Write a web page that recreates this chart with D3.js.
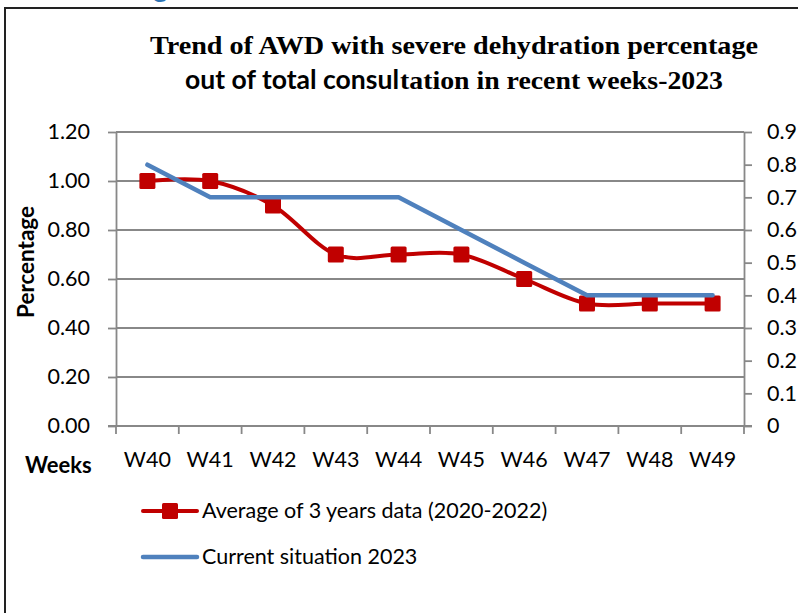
<!DOCTYPE html>
<html>
<head>
<meta charset="utf-8">
<script src="https://cdn.jsdelivr.net/npm/d3@7"></script>
<style>
  body { margin: 0; background: #fff; }
  svg { display: block; }
</style>
</head>
<body>
<svg id="chart" width="798" height="613"></svg>
<script>
const weeks = ["W40", "W41", "W42", "W43", "W44", "W45", "W46", "W47", "W48", "W49"];
const avgPrev = [1.0, 1.0, 0.9, 0.7, 0.7, 0.7, 0.6, 0.5, 0.5, 0.5];
const current2023 = [0.8, 0.7, 0.7, 0.7, 0.7, 0.6, 0.5, 0.4, 0.4, 0.4];
const leftTicks = [0, 0.2, 0.4, 0.6, 0.8, 1.0, 1.2];
const rightTicks = [0, 0.1, 0.2, 0.3, 0.4, 0.5, 0.6, 0.7, 0.8, 0.9];

const svg = d3.select("#chart");
const sans = "Lato, 'Open Sans', sans-serif";
const serif = "'Liberation Serif', 'DejaVu Serif', serif";
const gray = "#888888";
const red = "#C00000";
const blue = "#4F81BD";

const plot = { left: 116, right: 744, top: 132, bottom: 426 };

// frame of the pasted chart
svg.append("rect")
  .attr("x", 5).attr("y", 8)
  .attr("width", 820).attr("height", 700)
  .attr("fill", "none")
  .attr("stroke", "#222")
  .attr("stroke-width", 2);

// cut off heading glyph above the frame
svg.append("text")
  .attr("x", 153).attr("y", -3)
  .attr("font-family", sans).attr("font-weight", 700)
  .attr("font-size", 28).attr("fill", "#2E74B5")
  .text("g");

// title
svg.append("text")
  .attr("x", 150).attr("y", 54)
  .attr("font-family", serif).attr("font-weight", 700)
  .attr("font-size", 26)
  .attr("textLength", 608).attr("lengthAdjust", "spacingAndGlyphs")
  .text("Trend of AWD with severe dehydration percentage");
svg.append("text")
  .attr("x", 185).attr("y", 89)
  .attr("font-family", sans).attr("font-weight", 700)
  .attr("font-size", 26)
  .attr("textLength", 214).attr("lengthAdjust", "spacingAndGlyphs")
  .text("out of total consul");
svg.append("text")
  .attr("x", 400).attr("y", 89)
  .attr("font-family", serif).attr("font-weight", 700)
  .attr("font-size", 26)
  .attr("textLength", 323).attr("lengthAdjust", "spacingAndGlyphs")
  .text("tation in recent weeks-2023");

const x = d3.scaleBand().domain(weeks).range([plot.left, plot.right]);
const yL = d3.scaleLinear().domain([0, 1.2]).range([plot.bottom, plot.top]);
const yR = d3.scaleLinear().domain([0, 0.9]).range([plot.bottom, plot.top]);
const cx = (d) => x(d) + x.bandwidth() / 2;

// gridlines
svg.append("g")
  .selectAll("line")
  .data(leftTicks)
  .join("line")
  .attr("x1", plot.left).attr("x2", plot.right)
  .attr("y1", (d) => yL(d)).attr("y2", (d) => yL(d))
  .attr("stroke", gray).attr("stroke-width", 1.8);

function styleAxis(g) {
  g.selectAll(".domain").attr("stroke", gray).attr("stroke-width", 1.8);
  g.selectAll(".tick line").attr("stroke", gray).attr("stroke-width", 1.8);
  g.selectAll(".tick text")
    .attr("font-family", sans).attr("font-size", 21.5).attr("fill", "#000");
}

svg.append("g")
  .attr("transform", `translate(${plot.left},0)`)
  .call(d3.axisLeft(yL).tickValues(leftTicks).tickSize(8).tickSizeOuter(0)
    .tickPadding(18).tickFormat(d3.format(".2f")))
  .call(styleAxis);

svg.append("g")
  .attr("transform", `translate(${plot.right},0)`)
  .call(d3.axisRight(yR).tickValues(rightTicks).tickSize(8).tickSizeOuter(0)
    .tickPadding(15).tickFormat((d) => (d === 0 ? "0" : d.toFixed(1))))
  .call(styleAxis);

const xAxis = svg.append("g")
  .attr("transform", `translate(0,${plot.bottom})`)
  .call(d3.axisBottom(x).tickSize(0).tickSizeOuter(0).tickPadding(26))
  .call(styleAxis);
xAxis.selectAll(".domain").remove();
xAxis.append("line")
  .attr("x1", plot.left - 8).attr("x2", plot.right + 8)
  .attr("stroke", gray).attr("stroke-width", 1.8);
xAxis.selectAll("line.bound")
  .data(d3.range(weeks.length + 1))
  .join("line")
  .attr("class", "bound")
  .attr("x1", (i) => plot.left + i * x.step())
  .attr("x2", (i) => plot.left + i * x.step())
  .attr("y1", 0).attr("y2", 8)
  .attr("stroke", gray).attr("stroke-width", 1.8);

// axis titles
svg.append("text")
  .attr("transform", `translate(34,262) rotate(-90)`)
  .attr("text-anchor", "middle")
  .attr("font-family", sans).attr("font-weight", 700).attr("font-size", 22)
  .attr("textLength", 112).attr("lengthAdjust", "spacingAndGlyphs")
  .text("Percentage");
svg.append("text")
  .attr("x", 25).attr("y", 473)
  .attr("font-family", sans).attr("font-weight", 700).attr("font-size", 22)
  .text("Weeks");

// series
const redLine = d3.line()
  .x((d, i) => cx(weeks[i]))
  .y((d) => yL(d))
  .curve(d3.curveCardinal.tension(0));
svg.append("path")
  .datum(avgPrev)
  .attr("d", redLine)
  .attr("fill", "none").attr("stroke", red)
  .attr("stroke-width", 4).attr("stroke-linecap", "round");

svg.append("g")
  .selectAll("rect")
  .data(avgPrev)
  .join("rect")
  .attr("x", (d, i) => cx(weeks[i]) - 8)
  .attr("y", (d) => yL(d) - 8)
  .attr("width", 16).attr("height", 16)
  .attr("rx", 1.5)
  .attr("fill", red);

const blueLine = d3.line()
  .x((d, i) => cx(weeks[i]))
  .y((d) => yR(d));
svg.append("path")
  .datum(current2023)
  .attr("d", blueLine)
  .attr("fill", "none").attr("stroke", blue)
  .attr("stroke-width", 4.5)
  .attr("stroke-linecap", "round").attr("stroke-linejoin", "round");

// legend
const legend = svg.append("g").attr("transform", "translate(143,0)");
const items = [
  { label: "Average of 3 years data (2020-2022)", color: red, marker: true, y: 511 },
  { label: "Current situation 2023", color: blue, marker: false, y: 557 },
];
items.forEach((it) => {
  legend.append("line")
    .attr("x1", 0).attr("x2", 54)
    .attr("y1", it.y).attr("y2", it.y)
    .attr("stroke", it.color).attr("stroke-width", it.marker ? 4 : 4.5)
    .attr("stroke-linecap", "round");
  if (it.marker) {
    legend.append("rect")
      .attr("x", 27 - 8).attr("y", it.y - 8)
      .attr("width", 16).attr("height", 16).attr("rx", 1.5)
      .attr("fill", it.color);
  }
  legend.append("text")
    .attr("x", 59).attr("y", it.y + 7)
    .attr("font-family", sans).attr("font-size", 21.5)
    .text(it.label);
});
</script>
</body>
</html>
